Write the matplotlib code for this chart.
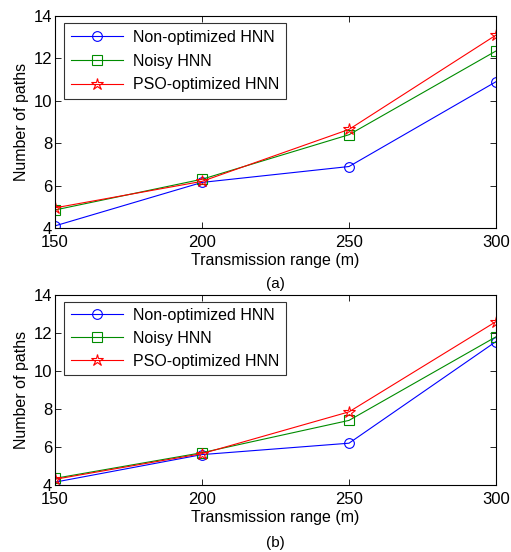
import matplotlib
matplotlib.use('Agg')
import matplotlib.pyplot as plt

plt.rcParams['font.family'] = ['Liberation Sans', 'DejaVu Sans']
plt.rcParams['font.size'] = 11

ranges = [150, 200, 250, 300]
labels = ['Non-optimized HNN', 'Noisy HNN', 'PSO-optimized HNN']

# panel (a)
a_nonopt = [4.1, 6.15, 6.9, 10.9]
a_noisy = [4.85, 6.3, 8.4, 12.35]
a_pso = [4.95, 6.2, 8.65, 13.1]

# panel (b)
b_nonopt = [4.15, 5.6, 6.2, 11.55]
b_noisy = [4.35, 5.7, 7.4, 11.8]
b_pso = [4.3, 5.65, 7.85, 12.6]

styles = [('blue', 'o'), ((0, 0.55, 0), 's'), ('red', '*')]

fig = plt.figure(figsize=(5.11, 5.52), dpi=100)
W, H = 511, 552


def panel(top, bottom, series, spacing, tag, tag_y):
    ax = fig.add_axes([55 / W, (H - bottom) / H, 441 / W, (bottom - top) / H])
    for vals, (c, m), lab in zip(series, styles, labels):
        ms = 9 if m == '*' else 7
        ax.plot(ranges, vals, color=c, marker=m, markersize=ms,
                markerfacecolor='none', markeredgecolor=c, lw=0.8, mew=0.8, label=lab)
    ax.set_xlim(150, 300)
    ax.set_ylim(4, 14)
    ax.set_xticks(ranges)
    ax.set_yticks([4, 6, 8, 10, 12, 14])
    ax.tick_params(direction='in', top=True, right=True, length=4, width=0.6, labelsize=12)
    ax.tick_params(axis='x', pad=5)
    ax.tick_params(axis='y', pad=2)
    for s in ax.spines.values():
        s.set_linewidth(0.8)
    ax.set_xlabel('Transmission range (m)', fontsize=11.5, labelpad=2)
    ax.set_ylabel('Number of paths', fontsize=11.5, labelpad=3)
    leg = ax.legend(loc='upper left', bbox_to_anchor=(0.021, 0.965), fontsize=11.5,
                    frameon=True, fancybox=False, edgecolor='black', handlelength=3.3,
                    borderpad=0.4, labelspacing=spacing, handletextpad=0.6,
                    borderaxespad=0)
    leg.get_frame().set_linewidth(0.8)
    fig.text((55 + 496) / 2 / W, 1 - tag_y / H, tag,
             ha='center', va='center', fontsize=11)
    return ax


panel(16, 228, [a_nonopt, a_noisy, a_pso], 0.55, '(a)', 284)
panel(295, 485, [b_nonopt, b_noisy, b_pso], 0.5, '(b)', 543)

fig.savefig('out.png', dpi=100)
